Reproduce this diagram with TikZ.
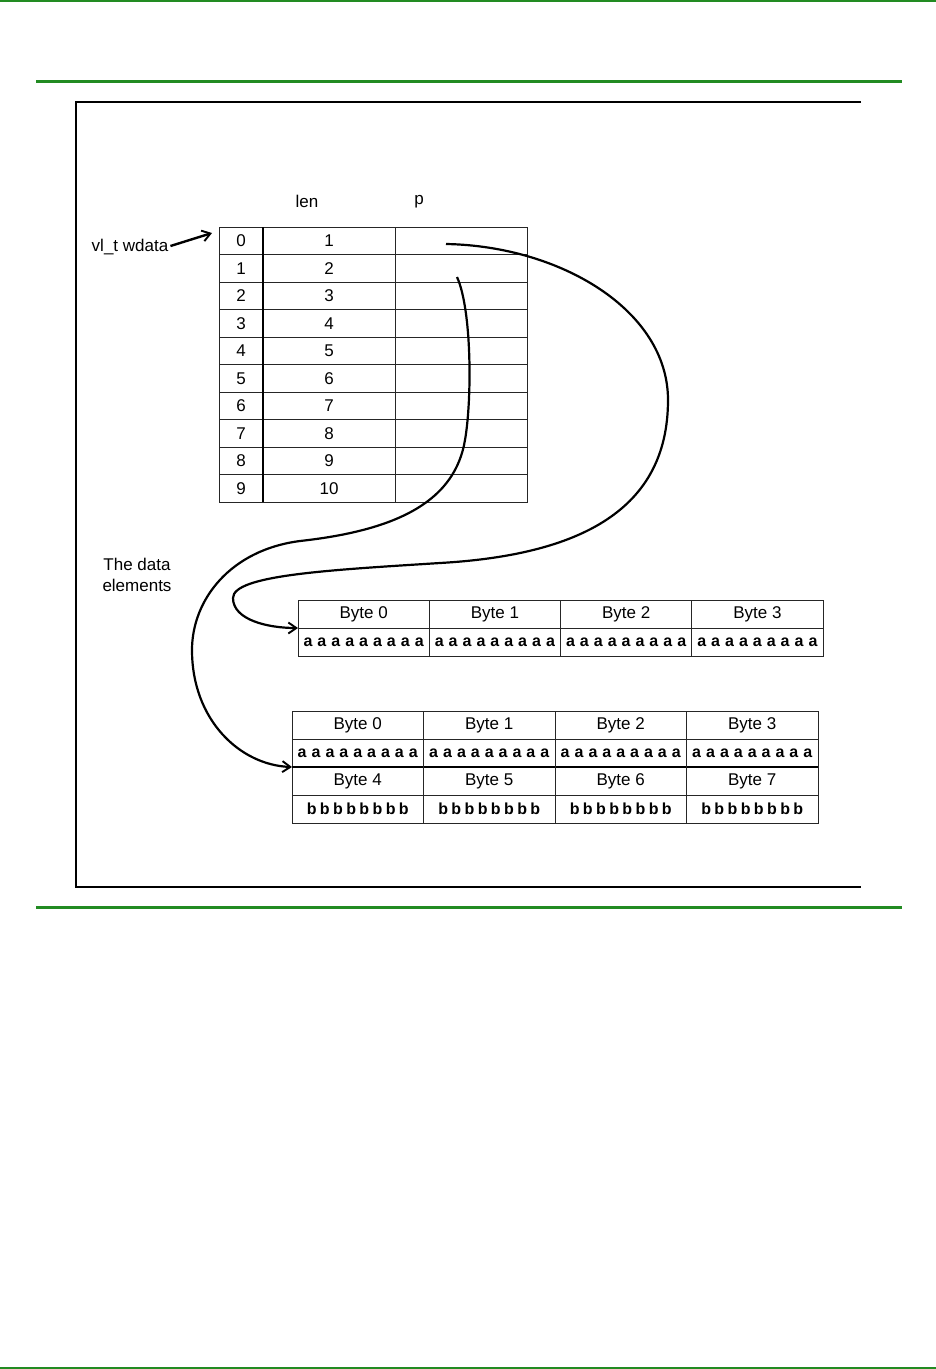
\documentclass[tikz,border=0pt]{standalone}
\usepackage{fontspec}
\setmainfont{Liberation Sans}
\usetikzlibrary{arrows.meta}
\definecolor{pagegreen}{HTML}{228B22}

\begin{document}
\begin{tikzpicture}[x=1pt, y=-1pt,
  txt/.style={font=\fontsize{17}{21}\selectfont, inner sep=0pt, anchor=center},
  abits/.style={font={\fontsize{16}{18}\selectfont\bfseries\spaceskip=5pt\xspaceskip=5pt}, inner sep=0pt},
  bbits/.style={font={\fontsize{16}{18}\selectfont\bfseries\spaceskip=3.4pt\xspaceskip=3.4pt}, inner sep=0pt},
  rule/.style={line width=0.9pt, black!85},
  frame/.style={line width=1.5pt},
  link/.style={line width=2.2pt, -{Straight Barb[length=8pt, width=11pt, line width=1.9pt]}}]

\useasboundingbox (0,0) rectangle (936,1369);

% page rules
\draw[pagegreen, line width=1.5pt] (0,1) -- (936,1);
\draw[pagegreen, line width=3pt] (36,81) -- (902,81);
\draw[pagegreen, line width=3pt] (36,907) -- (902,907);
\draw[pagegreen, line width=2pt] (0,1367.5) -- (936,1367.5);

% figure frame (open at the right)
\draw[frame] (861,102) -- (76,102) -- (76,887) -- (861,887);

% the vl_t array
\node[txt] (hdrlen) at (307,201) {len};
\node[txt] (hdrp) at (419,202) {p};
\draw[rule] (219,227) rectangle (527,502);
\foreach \r in {1,...,9}
  \draw[rule] (219,{227+27.5*\r}) -- (527,{227+27.5*\r});
\draw[line width=1.8pt] (263,227) -- (263,502);
\draw[rule] (395,227) -- (395,502);
\foreach \r [evaluate=\r as \n using int(\r+1)] in {0,...,9} {
  \node[txt] (idx\r) at (241,{227+27.5*(\r+0.5)}) {\r};
  \node[txt] (len\r) at (329,{227+27.5*(\r+0.5)}) {\n};
}

\node[txt] (wdata) at (130,247) {vl\_t wdata};
\coordinate (arrtop) at (212,233);
\draw[link, line width=2.4pt] (wdata.east) ++(2,-1) -- (arrtop);

\node[txt, align=center] (elements) at (137,575) {The data\\elements};

% first element: 4 bytes
\draw[rule] (298,600) rectangle (823,656);
\draw[rule] (298,628) -- (823,628);
\foreach \j in {1,2,3}
  \draw[rule] ({298+131.25*\j},600) -- ({298+131.25*\j},656);
\foreach \j in {0,...,3} {
  \node[txt] (onebyte\j) at ({298+131.25*(\j+0.5)},614) {Byte \j};
  \node[abits] (onebits\j) at ({298+131.25*(\j+0.5)},642) {a a a a a a a a a};
}

% second element: 8 bytes
\draw[rule] (292,711) rectangle (818,823);
\draw[rule] (292,739) -- (818,739);
\draw[line width=1.8pt] (292,767) -- (818,767);
\draw[rule] (292,795) -- (818,795);
\foreach \j in {1,2,3}
  \draw[rule] ({292+131.5*\j},711) -- ({292+131.5*\j},823);
\foreach \j [evaluate=\j as \k using int(\j+4)] in {0,...,3} {
  \node[txt] (twobyte\j) at ({292+131.5*(\j+0.5)},725) {Byte \j};
  \node[abits] (twobits\j) at ({292+131.5*(\j+0.5)},753) {a a a a a a a a a};
  \node[txt] (twobyte\k) at ({292+131.5*(\j+0.5)},781) {Byte \k};
  \node[bbits] (twobits\k) at ({292+131.5*(\j+0.5)},809) {b b b b b b b b};
}

% pointers
\coordinate (p0) at (446,244);
\coordinate (p1) at (457,277);
\coordinate (onein) at (298,628);
\coordinate (twoin) at (292,767);
\draw[link] (p0) .. controls (560,246) and (668,310) .. (668,400)
  .. controls (668,510) and (580,555) .. (440,563)
  .. controls (330,570) and (233,575) .. (233,598)
  .. controls (233,620) and (268,628) .. (onein);
\draw[link] (p1) .. controls (472,310) and (472,400) .. (465,440)
  .. controls (455,500) and (400,530) .. (300,541)
  .. controls (230,550) and (192,600) .. (192,650)
  .. controls (192,720) and (240,765) .. (twoin);
\end{tikzpicture}
\end{document}
